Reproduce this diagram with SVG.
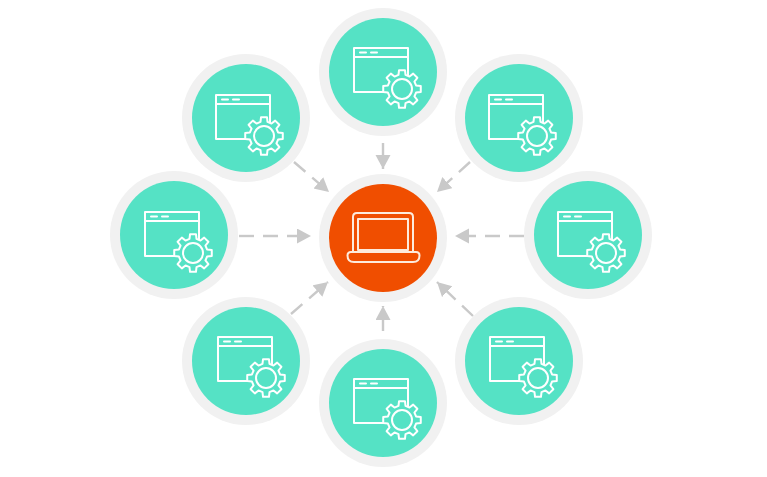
<svg xmlns="http://www.w3.org/2000/svg" xmlns:xlink="http://www.w3.org/1999/xlink" width="767" height="477" viewBox="0 0 767 477">
<style>
.ring{fill:#f1f1f1}
.disc{fill:#55e2c5}
.hub{fill:#f04e00}
.ln{fill:none;stroke:#fff;stroke-width:2;stroke-linejoin:round;stroke-linecap:round}
.gear{fill:#55e2c5;stroke:#fff;stroke-width:2;stroke-linejoin:round}
.hubl{fill:#f04e00;stroke:#fdebdc;stroke-width:2;stroke-linejoin:round}
.conn{fill:none;stroke:#c9c9c9;stroke-width:2.4;stroke-dasharray:15 9}
</style>
<defs>
<marker id="arrow" markerUnits="userSpaceOnUse" markerWidth="16" markerHeight="16" refX="14" refY="7.5" orient="auto">
<path d="M0 0L14 7.5L0 15Z" fill="#c9c9c9"/>
</marker>
<g id="icon">
<rect class="ln" x="0" y="0" width="54" height="44"/>
<path class="ln" d="M0 9H54M6 4.5H12M17 4.5H23"/>
<g transform="translate(48 41)">
<path class="gear" d="M14.07 -3.51L18.77 -2.97L18.77 2.97L14.07 3.51L12.43 7.47L15.37 11.17L11.17 15.37L7.47 12.43L3.51 14.07L2.97 18.77L-2.97 18.77L-3.51 14.07L-7.47 12.43L-11.17 15.37L-15.37 11.17L-12.43 7.47L-14.07 3.51L-18.77 2.97L-18.77 -2.97L-14.07 -3.51L-12.43 -7.47L-15.37 -11.17L-11.17 -15.37L-7.47 -12.43L-3.51 -14.07L-2.97 -18.77L2.97 -18.77L3.51 -14.07L7.47 -12.43L11.17 -15.37L15.37 -11.17L12.43 -7.47Z"/>
<circle class="ln" r="10"/>
</g>
</g>
</defs>
<rect width="767" height="477" fill="#fff"/>
<g id="connectors">
<path class="conn" marker-end="url(#arrow)" d="M383 143V169" stroke-dasharray="14 0"/>
<path class="conn" marker-end="url(#arrow)" d="M239 236H311"/>
<path class="conn" marker-end="url(#arrow)" d="M524 236H455"/>
<path class="conn" marker-end="url(#arrow)" d="M383 331V306" stroke-dasharray="14 0"/>
<path class="conn" marker-end="url(#arrow)" d="M294 162L329 192"/>
<path class="conn" marker-end="url(#arrow)" d="M470 162L437 192"/>
<path class="conn" marker-end="url(#arrow)" d="M291 314L328 282"/>
<path class="conn" marker-end="url(#arrow)" d="M473 316L437 282"/>
</g>
<g id="node-center">
<circle class="ring" cx="383" cy="238" r="64"/>
<circle class="hub" cx="383" cy="238" r="54"/>
<path class="hubl" d="M353 252V217Q353 213 357 213H409Q413 213 413 217V252"/>
<rect class="hubl" x="358" y="219" width="50" height="31"/>
<path class="hubl" d="M347.500 255.500Q347.500 252 351 252H416Q419.500 252 419.500 255.500Q419.500 262 413 262H354Q347.500 262 347.500 255.500Z"/>
</g>
<g id="node-top"><circle class="ring" cx="383" cy="72" r="64"/><circle class="disc" cx="383" cy="72" r="54"/><use href="#icon" x="354" y="48"/></g>
<g id="node-top-left"><circle class="ring" cx="246" cy="118" r="64"/><circle class="disc" cx="246" cy="118" r="54"/><use href="#icon" x="216" y="95"/></g>
<g id="node-top-right"><circle class="ring" cx="519" cy="118" r="64"/><circle class="disc" cx="519" cy="118" r="54"/><use href="#icon" x="489" y="95"/></g>
<g id="node-left"><circle class="ring" cx="174" cy="235" r="64"/><circle class="disc" cx="174" cy="235" r="54"/><use href="#icon" x="145" y="212"/></g>
<g id="node-right"><circle class="ring" cx="588" cy="235" r="64"/><circle class="disc" cx="588" cy="235" r="54"/><use href="#icon" x="558" y="212"/></g>
<g id="node-bottom-left"><circle class="ring" cx="246" cy="361" r="64"/><circle class="disc" cx="246" cy="361" r="54"/><use href="#icon" x="218" y="337"/></g>
<g id="node-bottom"><circle class="ring" cx="383" cy="403" r="64"/><circle class="disc" cx="383" cy="403" r="54"/><use href="#icon" x="354" y="379"/></g>
<g id="node-bottom-right"><circle class="ring" cx="519" cy="361" r="64"/><circle class="disc" cx="519" cy="361" r="54"/><use href="#icon" x="490" y="337"/></g>
</svg>
